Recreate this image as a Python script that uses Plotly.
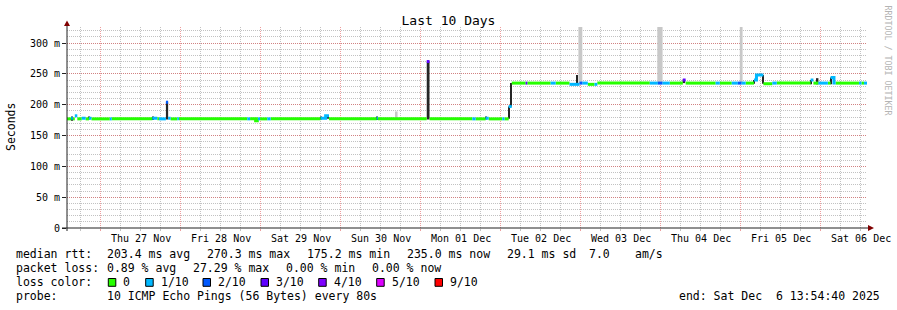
import plotly.graph_objects as go
import pandas as pd

# ---------------- data ----------------
START = "2025-11-26 13:54:40"
END = "2025-12-06 13:54:40"

# median rtt segments (ms) with number of lost pings out of 10
seg_start = [
    "2025-11-26 13:55", "2025-11-26 15:10", "2025-11-26 15:40", "2025-11-26 16:15", "2025-11-26 17:00",
    "2025-11-26 18:20", "2025-11-26 19:30", "2025-11-26 20:30", "2025-11-26 21:15", "2025-11-27 02:45",
    "2025-11-27 03:20", "2025-11-27 15:30", "2025-11-27 17:00", "2025-11-27 17:30", "2025-11-27 19:35",
    "2025-11-27 20:15", "2025-11-27 21:00", "2025-11-27 23:00", "2025-11-27 23:30", "2025-11-28 20:00",
    "2025-11-28 20:50", "2025-11-28 22:30", "2025-11-28 23:00", "2025-11-28 23:10", "2025-11-28 23:50",
    "2025-11-29 02:00", "2025-11-29 03:00", "2025-11-29 18:00", "2025-11-29 19:30", "2025-11-29 20:30",
    "2025-11-30 10:50", "2025-11-30 11:10", "2025-12-01 01:50", "2025-12-01 02:40", "2025-12-01 15:30",
    "2025-12-01 16:30", "2025-12-01 19:30", "2025-12-01 20:25", "2025-12-02 00:30", "2025-12-02 01:10",
    "2025-12-02 02:25", "2025-12-02 03:20", "2025-12-02 07:30", "2025-12-02 08:00", "2025-12-02 15:00",
    "2025-12-02 16:30", "2025-12-02 20:40", "2025-12-02 23:40", "2025-12-03 00:30", "2025-12-03 02:10",
    "2025-12-03 04:10", "2025-12-03 05:00", "2025-12-03 20:45", "2025-12-03 23:10", "2025-12-04 00:30",
    "2025-12-04 02:45", "2025-12-04 06:40", "2025-12-04 07:30", "2025-12-04 16:30", "2025-12-04 17:45",
    "2025-12-04 21:20", "2025-12-04 23:10", "2025-12-05 00:15", "2025-12-05 01:30", "2025-12-05 04:00",
    "2025-12-05 04:45", "2025-12-05 06:50", "2025-12-05 09:30", "2025-12-05 10:50", "2025-12-05 21:00",
    "2025-12-05 21:50", "2025-12-05 23:20", "2025-12-06 02:10", "2025-12-06 03:00", "2025-12-06 04:00",
    "2025-12-06 04:30", "2025-12-06 11:30", "2025-12-06 12:15", "2025-12-06 13:00",
]
seg_median = [
    177, 178, 177, 182, 177,
    178, 177, 178, 177, 177,
    177, 178, 177, 177, 204,
    178, 177, 177, 177, 177,
    177, 174, 177, 177, 177,
    177, 177, 178, 182, 177,
    178, 177, 270, 177, 177,
    177, 178, 177, 177, 177,
    197, 235, 235, 235, 235,
    235, 233, 235, 235, 233,
    233, 235, 235, 235, 235,
    235, 240, 235, 235, 235,
    235, 235, 235, 235, 240,
    248, 234, 235, 235, 240,
    235, 235, 235, 244, 235,
    235, 235, 235, 235,
]
seg_loss = [
    0, 1, 0, 1, 0,
    1, 0, 1, 0, 1,
    0, 1, 0, 1, 2,
    1, 0, 1, 0, 1,
    0, 0, 0, 1, 0,
    1, 0, 1, 1, 0,
    1, 0, 3, 0, 1,
    0, 1, 0, 1, 0,
    1, 0, 3, 0, 1,
    0, 1, 2, 1, 0,
    1, 0, 1, 2, 1,
    0, 3, 0, 1, 0,
    1, 2, 1, 0, 1,
    1, 0, 1, 0, 1,
    0, 1, 0, 1, 1,
    0, 1, 0, 1,
]

# dense smoke (ping spread) intervals, ms
dark_start = ["2025-11-26 15:15", "2025-11-26 20:25", "2025-11-27 15:25", "2025-11-27 19:35",
              "2025-11-29 17:55", "2025-11-29 20:10", "2025-11-30 10:45", "2025-12-01 01:50",
              "2025-12-01 19:25", "2025-12-02 02:15", "2025-12-02 03:05", "2025-12-02 22:50",
              "2025-12-04 06:35", "2025-12-05 03:50", "2025-12-05 04:35", "2025-12-05 06:35",
              "2025-12-05 20:55", "2025-12-05 22:50", "2025-12-06 02:55"]
dark_end = ["2025-11-26 15:35", "2025-11-26 20:45", "2025-11-27 15:50", "2025-11-27 20:15",
            "2025-11-29 18:15", "2025-11-29 20:30", "2025-11-30 11:05", "2025-12-01 02:40",
            "2025-12-01 19:45", "2025-12-02 02:35", "2025-12-02 03:20", "2025-12-02 23:10",
            "2025-12-04 07:20", "2025-12-05 04:10", "2025-12-05 04:55", "2025-12-05 06:55",
            "2025-12-05 21:15", "2025-12-05 23:20", "2025-12-06 03:20"]
dark_low = [174, 176, 175, 176, 176, 177, 175, 176, 176, 177, 197, 233, 235, 234, 240, 234, 233, 233, 233]
dark_high = [181, 181, 181, 204, 181, 183, 181, 270, 181, 197, 235, 248, 241, 240, 248, 248, 240, 243, 244]

# sparse smoke (outlier pings), ms
light_start = ["2025-11-30 16:30", "2025-12-02 23:20", "2025-12-03 23:00", "2025-12-04 23:45"]
light_end = ["2025-11-30 17:05", "2025-12-03 00:30", "2025-12-04 00:35", "2025-12-05 00:35"]
light_low = [178, 235, 235, 235]
light_high = [189, 330, 330, 330]

# axis labels
day_noon = ["2025-11-27 12:00", "2025-11-28 12:00", "2025-11-29 12:00", "2025-11-30 12:00",
            "2025-12-01 12:00", "2025-12-02 12:00", "2025-12-03 12:00", "2025-12-04 12:00",
            "2025-12-05 12:00", "2025-12-06 12:00"]
day_labels = ["Thu 27 Nov", "Fri 28 Nov", "Sat 29 Nov", "Sun 30 Nov", "Mon 01 Dec",
              "Tue 02 Dec", "Wed 03 Dec", "Thu 04 Dec", "Fri 05 Dec", "Sat 06 Dec"]
y_tickvals = [0, 50, 100, 150, 200, 250, 300]
y_ticktext = ["0", "50 m", "100 m", "150 m", "200 m", "250 m", "300 m"]

loss_levels = [0, 1, 2, 3, 4, 5, 9]
loss_labels = ["0", "1/10", "2/10", "3/10", "4/10", "5/10", "9/10"]

# ---------------- style ----------------
LOSS_COLORS = {0: "#26ff00", 1: "#00b8ff", 2: "#0059ff", 3: "#5e00ff",
               4: "#7e00ff", 5: "#dd00ff", 9: "#ff0000"}
FONT = "DejaVu Sans Mono"
GRID = "rgba(143,143,143,0.55)"
MGRID = "rgba(222,79,79,0.55)"
W, H = 897, 310
L, R, T, B = 67, 30, 27, 82
PW, PH = W - L - R, H - T - B


def px(xp):
    return (xp - L) / PW


def py(yp):
    return (T + PH - yp) / PH


fig = go.Figure()


def add_bars(starts, ends, lows, highs, color):
    s = pd.to_datetime(starts)
    e = pd.to_datetime(ends)
    mid = s + (e - s) / 2
    width = [d.total_seconds() * 1000 for d in (e - s)]
    fig.add_trace(go.Bar(x=list(mid), y=[h - l for h, l in zip(highs, lows)], base=lows,
                         width=width, marker=dict(color=color, line=dict(width=0)),
                         hoverinfo="skip", showlegend=False))


add_bars(light_start, light_end, light_low, light_high, "#c8c8c8")
add_bars(dark_start, dark_end, dark_low, dark_high, "#262626")

seg_end = seg_start[1:] + [END]
for level in loss_levels:
    xs, ys = [], []
    for s, e, v, l in zip(seg_start, seg_end, seg_median, seg_loss):
        if l == level:
            xs += [s, e]
            ys += [v, v]
        elif xs and xs[-1] is not None:
            xs.append(None)
            ys.append(None)
    if xs:
        fig.add_trace(go.Scatter(x=xs, y=ys, mode="lines", connectgaps=False,
                                 line=dict(color=LOSS_COLORS[level], width=3, shape="hv"),
                                 hoverinfo="skip", showlegend=False))

fig.update_layout(
    width=W, height=H, margin=dict(l=L, r=R, t=T, b=B, pad=0),
    paper_bgcolor="white", plot_bgcolor="white", barmode="overlay",
    showlegend=False,
    font=dict(family=FONT, size=10, color="black"),
    title=dict(text="Last 10 Days", x=0.5, xanchor="center", xref="container",
               y=1 - 20 / H, yanchor="middle", yref="container",
               font=dict(family=FONT, size=13, color="black")),
    xaxis=dict(type="date", range=[START, END], showline=False, zeroline=False,
               tick0="2025-11-27 00:00", dtick=86400000, showticklabels=False,
               showgrid=True, gridcolor=MGRID, griddash="1px,1px", gridwidth=1,
               ticks="outside", ticklen=2, tickcolor=MGRID,
               minor=dict(dtick=21600000, tick0="2025-11-27 00:00", showgrid=True,
                          gridcolor=GRID, griddash="1px,1px", ticks="outside",
                          ticklen=2, tickcolor=GRID)),
    yaxis=dict(range=[0, 326], showline=False, zeroline=False,
               tickvals=y_tickvals, ticktext=y_ticktext,
               tickfont=dict(family=FONT, size=10, color="black"),
               showgrid=True, gridcolor=MGRID, griddash="1px,1px", gridwidth=1,
               ticks="outside", ticklen=4, tickcolor="#212121",
               minor=dict(dtick=10, tick0=0, showgrid=True, gridcolor=GRID,
                          griddash="1px,1px")),
)

ann = []
for xv, t in zip(day_noon, day_labels):
    ann.append(dict(x=xv, xref="x", y=py(238), yref="paper", text=t, showarrow=False,
                    xanchor="center", yanchor="middle", font=dict(family=FONT, size=10),
                    borderpad=0, borderwidth=0))

ann.append(dict(x=px(10.5), y=py(127.5), xref="paper", yref="paper", text="Seconds",
                textangle=-90, showarrow=False, xanchor="center", yanchor="middle",
                font=dict(family=FONT, size=11.5)))
ann.append(dict(x=px(887.5), y=py(60), xref="paper", yref="paper",
                text="RRDTOOL / TOBI OETIKER", textangle=90, showarrow=False,
                xanchor="center", yanchor="middle", font=dict(family=FONT, size=8.3, color="#b4b4b4")))

LF = dict(family=FONT, size=11.5, color="black")


def txt(x, y, s, anchor="left"):
    ann.append(dict(x=px(x), y=py(y), xref="paper", yref="paper", text=s, showarrow=False,
                    xanchor=anchor, yanchor="middle", font=LF, borderpad=0, borderwidth=0))


stats1 = [("median rtt:", 16), ("203.4 ms avg", 107.3), ("270.3 ms max", 207.3),
          ("175.2 ms min", 306.7), ("235.0 ms now", 406.7), ("29.1 ms sd", 507),
          ("7.0", 589.3), ("am/s", 635)]
for s, x in stats1:
    txt(x, 254.3, s)
stats2 = [("packet loss:", 16), ("0.89 % avg", 107.3), ("27.29 % max", 193.3),
          ("0.00 % min", 286.3), ("0.00 % now", 372.3)]
for s, x in stats2:
    txt(x, 268.3, s)

txt(16, 282.3, "loss color:")
sw_x = [108.3, 145.7, 203, 261, 318.7, 376.7, 435]
lbl_x = [123, 161, 218, 276, 334, 391.7, 450]
shapes = []
for lvl, lab, sx, lx in zip(loss_levels, loss_labels, sw_x, lbl_x):
    shapes.append(dict(type="rect", xref="paper", yref="paper", x0=px(sx), x1=px(sx + 7.5),
                       y0=py(286.3), y1=py(278.5), fillcolor=LOSS_COLORS[lvl],
                       line=dict(color="black", width=1)))
    txt(lx, 282.3, lab)

txt(16, 296.3, "probe:")
txt(107.3, 296.3, "10 ICMP Echo Pings (56 Bytes) every 80s")
txt(880, 296.3, "end: Sat Dec\u00a0 6 13:54:40 2025", anchor="right")

# axes with arrows
AX = "#212121"
AR = "rgb(128,0,0)"
shapes.append(dict(type="line", xref="paper", yref="paper", x0=px(62), x1=px(869),
                   y0=0, y1=0, line=dict(color=AX, width=1)))
shapes.append(dict(type="line", xref="paper", yref="paper", x0=0, x1=0,
                   y0=py(231), y1=py(25), line=dict(color=AX, width=1)))
shapes.append(dict(type="path", xref="paper", yref="paper",
                   path=f"M {px(868)},{py(225)} L {px(874)},{py(228)} L {px(868)},{py(231)} Z",
                   fillcolor=AR, line=dict(color=AR, width=0)))
shapes.append(dict(type="path", xref="paper", yref="paper",
                   path=f"M {px(64)},{py(26)} L {px(67)},{py(20.5)} L {px(70)},{py(26)} Z",
                   fillcolor=AR, line=dict(color=AR, width=0)))

fig.update_layout(annotations=ann, shapes=shapes)
fig.write_html("out.html")
